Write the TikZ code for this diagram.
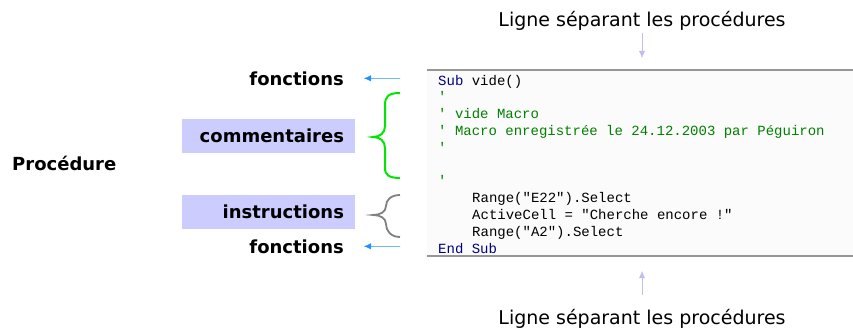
\documentclass[tikz,border=0pt]{standalone}
\usepackage{fontspec}
\setmainfont{DejaVu Sans}
\newfontfamily\codefont{Liberation Mono}
\usepackage{tikz}
\usetikzlibrary{arrows.meta}
\definecolor{lavande}{RGB}{204,204,255}
\definecolor{fleche}{RGB}{30,144,255}
\definecolor{flechepale}{RGB}{190,190,240}
\definecolor{vert}{RGB}{0,230,0}
\definecolor{motcle}{RGB}{0,0,128}
\definecolor{remarque}{RGB}{0,128,0}
\definecolor{trait}{RGB}{150,150,150}
\definecolor{fond}{RGB}{251,251,251}

\begin{document}
\begin{tikzpicture}[x=1pt, y=-1pt, >={Latex[length=7pt,width=6pt]},
		titre/.style={font=\fontsize{19pt}{22pt}\selectfont},
		etiq/.style={font=\fontsize{18pt}{21pt}\selectfont\bfseries, inner sep=0pt},
		marque/.style={etiq, fill=lavande, minimum height=34pt, text width=151pt, align=right, inner xsep=11pt},
		code/.style={font=\fontsize{14pt}{16pt}\selectfont\codefont, anchor=base west, inner sep=0pt}]
		\useasboundingbox (0,0) rectangle (853,329);
		% fond du code
		\fill[fond] (427,70) rectangle (853,256);
		\draw[trait, line width=1.5pt] (427,70) -- (853,70);
		\draw[trait, line width=1.5pt] (427,256) -- (853,256);
		% lignes du code
		\node[code] (C1) at (438,85) {\textcolor{motcle}{Sub} vide()};
		\node[code, remarque] (C2) at (438,101.8) {'};
		\node[code, remarque] (C3) at (438,118.6) {' vide Macro};
		\node[code, remarque] (C4) at (438,135.4) {' Macro enregistrée le 24.12.2003 par Péguiron};
		\node[code, remarque] (C5) at (438,152.2) {'};
		\node[code, remarque] (C7) at (438,185.8) {'};
		\node[code] (C8) at (472,202.6) {Range("E22").Select};
		\node[code] (C9) at (472,219.4) {ActiveCell = "Cherche encore !"};
		\node[code] (C10) at (472,236.2) {Range("A2").Select};
		\node[code, motcle] (C11) at (438,253) {End Sub};
		% textes du haut et du bas
		\node[titre, anchor=base] (T1) at (642,27) {Ligne séparant les procédures};
		\node[titre, anchor=base] (T2) at (642,324) {Ligne séparant les procédures};
		\coordinate (H1) at (642,33);
		\coordinate (H2) at (642,58);
		\coordinate (B1) at (642,295);
		\coordinate (B2) at (642,271);
		\draw[->, flechepale] (H1) -- (H2);
		\draw[->, flechepale] (B1) -- (B2);
		% etiquettes
		\node[etiq, anchor=base west] (P) at (12,170) {Procédure};
		\node[etiq, anchor=base east] (F1) at (344,85) {fonctions};
		\node[etiq, anchor=base east] (F2) at (344,253) {fonctions};
		\node[marque] (K) at (268.5,136) {commentaires};
		\node[marque] (I) at (268.5,212) {instructions};
		\coordinate (A1) at (400,78.4);
		\coordinate (A2) at (400,246.4);
		\draw[->, fleche] (A1) -- ([xshift=20pt]F1.east);
		\draw[->, fleche] (A2) -- ([xshift=20pt]F2.east);
		% accolades
		\draw[vert, line width=2pt] (400,93) .. controls (389,93) and (385,96) .. (385,105)
		      -- (385,126) .. controls (385,133) and (380,137) .. (373,137)
		      .. controls (380,137) and (385,141) .. (385,148)
		      -- (385,168) .. controls (385,175) and (389,178) .. (400,178);
		\draw[gray, line width=1.8pt] (400,195) .. controls (391,195) and (386,200) .. (386,206)
		      .. controls (386,212) and (380,215) .. (373,215)
		      .. controls (380,215) and (386,218) .. (386,224)
		      .. controls (386,231) and (391,237) .. (400,237);
\end{tikzpicture}
\end{document}
